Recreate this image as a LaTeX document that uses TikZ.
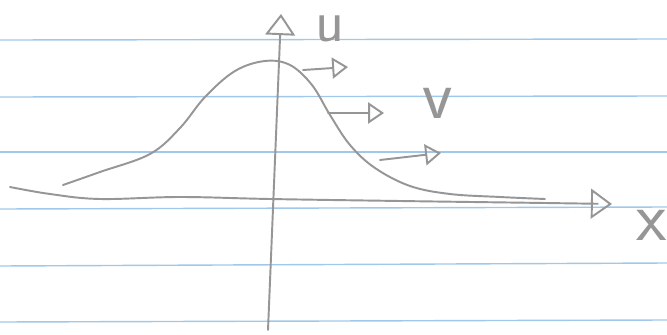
\documentclass[tikz,border=0pt]{standalone}
\usepackage{tikz}
\definecolor{pencil}{RGB}{150,150,150}
\definecolor{ruling}{RGB}{160,200,235}
\usetikzlibrary{arrows.meta}

\begin{document}
\begin{tikzpicture}[
    x=0.02cm, y=-0.02cm,
    sketch/.style={draw=pencil, line width=1.1pt, line cap=round, line join=round},
    axis/.style={sketch, -{Triangle[open, length=12pt, width=17pt, line width=1.1pt]}},
    flow/.style={sketch, -{Triangle[open, length=9pt, width=12pt, line width=1.1pt]}},
    lbl/.style={text=pencil, font=\sffamily\fontsize{40}{40}\selectfont, inner sep=0pt, anchor=base}
]
    % Paper
    \useasboundingbox (0,0) rectangle (667,335);
    \fill[white] (0,0) rectangle (667,335);
    \foreach \y/\yy in {40/39, 97/96, 152/152, 209/207, 266/263, 322/320}
        \draw[ruling, line width=0.8pt] (0,\y) -- (667,\yy);

    % Axes
    \coordinate (ubot) at (268,330);
    \coordinate (utop) at (281,14);
    \coordinate (xleft) at (10,187);
    \coordinate (xright) at (612,204);
    \draw[axis] (ubot) -- (utop);
    \draw[axis] plot[smooth, tension=0.6] coordinates {(10,187) (50,194) (100,199) (180,197) (270,199) (400,201) (545,203) (612,204)};

    % Bell curve
    \draw[sketch] plot[smooth, tension=0.6] coordinates {(63,185) (100,172) (150,154) (180,128) (205,97) (235,71) (265,61) (290,65) (312,85) (330,115) (350,145) (375,168) (410,186) (450,194) (500,197) (545,199)};

    % Labels
    \node[lbl, font=\sffamily\fontsize{34}{34}\selectfont] (u) at (330,41) {u};
    \node[lbl] (v) at (438,118) {v};
    \node[lbl] (x) at (652,240) {x};

    % Velocity arrows
    \coordinate (a1) at (303,70);  \coordinate (b1) at (348,67);
    \coordinate (a2) at (328,113); \coordinate (b2) at (384,113);
    \coordinate (a3) at (380,160); \coordinate (b3) at (441,153);
    \draw[flow] (a1) -- (b1);
    \draw[flow] (a2) -- (b2);
    \draw[flow] (a3) -- (b3);
\end{tikzpicture}
\end{document}
